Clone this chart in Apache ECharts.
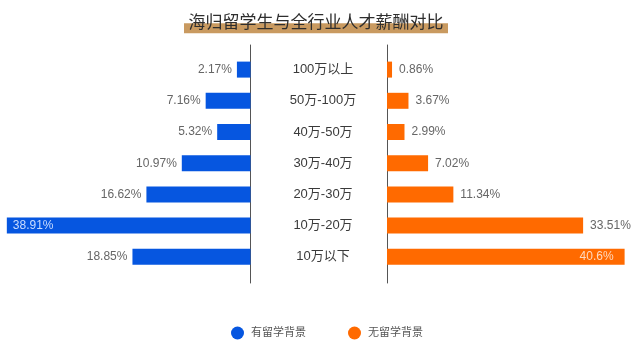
<!DOCTYPE html>
<html><head><meta charset="utf-8">
<script src="https://cdn.jsdelivr.net/npm/echarts@6/dist/echarts.min.js"></script>
<style>html,body{margin:0;padding:0;background:#fff}#c{width:640px;height:361px}</style>
</head><body><div id="c"></div>
<script>
const title = '海归留学生与全行业人才薪酬对比';
const categories = ['100万以上','50万-100万','40万-50万','30万-40万','20万-30万','10万-20万','10万以下'];
const seriesNames = ['有留学背景','无留学背景'];
const abroad = [2.17, 7.16, 5.32, 10.97, 16.62, 38.91, 18.85];
const domestic = [0.86, 3.67, 2.99, 7.02, 11.34, 33.51, 40.6];

const BLUE = '#0656e0', ORANGE = '#ff6a00';
const FONT = "'Liberation Sans','Noto Sans CJK SC',sans-serif";

function items(vals, side) {
  const mx = Math.max(...vals);
  return vals.map(v => {
    const inside = v === mx;
    return {
      value: v,
      label: inside ? {
        position: side === 'left' ? 'insideLeft' : 'insideRight',
        distance: side === 'left' ? 6 : 11,
        color: side === 'left' ? '#c9dcff' : '#ffd9bf'
      } : {}
    };
  });
}

const chart = echarts.init(document.getElementById('c'), null, {renderer: 'canvas'});
chart.setOption({
  animation: false,
  textStyle: {fontFamily: FONT},
  grid: [
    {left: 0, right: 389.5, top: 54, bottom: 88.6},
    {left: 387, right: 7.2, top: 54, bottom: 88.6},
    {left: 0, right: 389.5, top: 45, bottom: 78},
    {left: 387, right: 7.2, top: 45, bottom: 78}
  ],
  xAxis: [
    {gridIndex: 0, type: 'value', min: 0, max: 40, inverse: true, show: false},
    {gridIndex: 1, type: 'value', min: 0, max: 42, show: false},
    {gridIndex: 2, type: 'value', min: 0, max: 1, show: false},
    {gridIndex: 3, type: 'value', min: 0, max: 1, show: false}
  ],
  yAxis: [
    {gridIndex: 0, type: 'category', data: categories, inverse: true, position: 'right',
     axisLine: {show: false}, axisTick: {show: false},
     axisLabel: {align: 'center', margin: 72.5, fontSize: 13, color: '#3a3a3a', fontFamily: FONT}},
    {gridIndex: 1, type: 'category', data: categories, inverse: true, position: 'left',
     axisLine: {show: false}, axisTick: {show: false}, axisLabel: {show: false}},
    {gridIndex: 2, type: 'value', position: 'right', splitLine: {show: false},
     axisLine: {show: true, onZero: false, lineStyle: {color: '#555', width: 1}}, axisTick: {show: false}, axisLabel: {show: false}},
    {gridIndex: 3, type: 'value', position: 'left', splitLine: {show: false},
     axisLine: {show: true, onZero: false, lineStyle: {color: '#555', width: 1}}, axisTick: {show: false}, axisLabel: {show: false}}
  ],
  legend: {
    data: seriesNames, left: 226, top: 321.5, icon: 'circle',
    itemWidth: 13, itemHeight: 13, itemGap: 42,
    textStyle: {fontSize: 11, color: '#555', padding: [0, 0, 0, 2]}
  },
  graphic: [
    {type: 'rect', shape: {x: 184, y: 23.3, width: 264, height: 10}, style: {fill: '#c99a60'}, z: 1},
    {type: 'text', x: 316, y: 22, z: 2, style: {text: title, fontSize: 17, fontWeight: 'normal',
      fontFamily: "'Noto Sans CJK SC',sans-serif", fill: '#2e2e2e', align: 'center', verticalAlign: 'middle'}}
  ],
  series: [
    {name: seriesNames[0], type: 'bar', xAxisIndex: 0, yAxisIndex: 0, barWidth: 16,
     itemStyle: {color: BLUE}, data: items(abroad, 'left'),
     label: {show: true, position: 'left', distance: 5, fontSize: 12, color: '#666',
       formatter: p => p.value + '%'}},
    {name: seriesNames[1], type: 'bar', xAxisIndex: 1, yAxisIndex: 1, barWidth: 16,
     itemStyle: {color: ORANGE}, data: items(domestic, 'right'),
     label: {show: true, position: 'right', distance: 7, fontSize: 12, color: '#666',
       formatter: p => p.value + '%'}}
  ]
});
</script></body></html>
